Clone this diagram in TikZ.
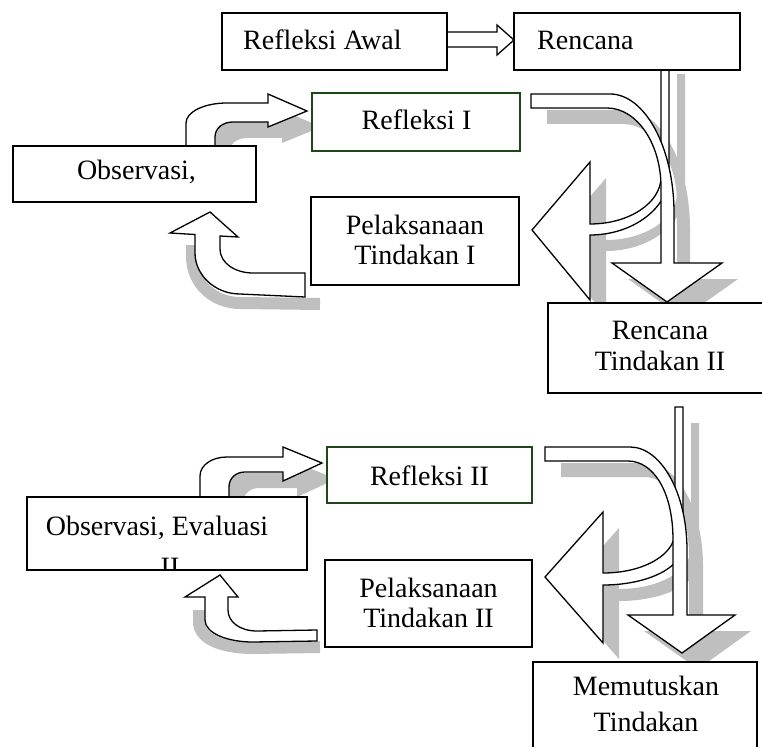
\documentclass[tikz,border=0pt]{standalone}
\usepackage{fontspec}
\setmainfont{Liberation Serif}
\definecolor{shadowgray}{RGB}{191,191,191}
\definecolor{dkgreen}{RGB}{30,70,25}
\newcommand\arA[1]{\path[#1] (531,94) -- (610,94) .. controls (645,94) and (674,148) .. (674,213) -- (674,263) -- (722,263) -- (667,302) -- (612,263) -- (661,263) -- (661,187) .. controls (661,144) and (637,108) .. (607,108) -- (531,108) -- cycle;}
\newcommand\arB[1]{\path[#1] (661,58) -- (669,58) -- (669,175) .. controls (669,208) and (633,235) .. (590,235) -- (590,300) -- (532,230) -- (590,162) -- (590,224) .. controls (629,224) and (661,203) .. (661,177) -- cycle;}
\newcommand\arC[1]{\path[#1] (186,147) -- (186,123) .. controls (186,112) and (204,103) .. (227,103) -- (268,103) -- (268,94) -- (307,111) -- (268,127) -- (268,122) -- (233,122) .. controls (223,122) and (215,128) .. (215,137) -- (215,147) -- cycle;}
\newcommand\arD[1]{\path[#1] (305,297) -- (240,294) .. controls (215,294) and (195,275) .. (195,253) -- (195,234.5) -- (170,233) -- (210,212) -- (238,237) -- (220,236) -- (220,249) .. controls (220,263) and (235,273) .. (253,273) -- (305,273) -- cycle;}
\newcommand\arE[1]{\path[#1] (200,498) -- (200,476) .. controls (200,465) and (212,457) .. (227,457) -- (283,457) -- (283,447) -- (322,463) -- (283,481) -- (283,472) -- (245,472) .. controls (236,472) and (229,478) .. (229,487) -- (229,498) -- cycle;}
\newcommand\arF[1]{\path[#1] (317,641) -- (253,642) .. controls (227,642) and (205,633) .. (205,620) -- (205,597) -- (185,597) -- (220,575) -- (238,597) -- (228,597) -- (228,610) .. controls (228,622) and (240,631) .. (257,631) -- (317,630) -- cycle;}
\newcommand\arG[1]{\path[#1] (545,447) -- (630,447) .. controls (661,447) and (687,493) .. (687,550) -- (687,615) -- (735,615) -- (682,653) -- (628,615) -- (673,615) -- (673,540) .. controls (673,491) and (653,461) .. (628,461) -- (545,461) -- cycle;}
\newcommand\arH[1]{\path[#1] (675,407) -- (683,407) -- (683,545) .. controls (683,568) and (647,585) .. (603,585) -- (603,643) -- (545,577) -- (603,512) -- (603,573) .. controls (643,573) and (675,555) .. (675,532) -- cycle;}
\begin{document}
\begin{tikzpicture}[x=1pt,y=-1pt,
  box/.style={draw=black,line width=1.8pt,fill=white,inner sep=0pt,outer sep=0pt},
  gbox/.style={box,draw=dkgreen},
  arr/.style={draw=black,line width=1.3pt,fill=white,line join=miter},
  shad/.style={fill=shadowgray,draw=none},
  shadband/.style={draw=shadowgray,line width=12pt},
  txt/.style={font=\fontsize{28}{31}\selectfont,inner sep=0pt,anchor=base},
]
\clip (0,0) rectangle (762,746);
\fill[white] (0,0) rectangle (762,746);
% shadows
\arA{shad,shift={(16,16)}}
\arB{shad,shift={(16,16)}}
\arC{shad,shift={(14,16)}}
\arE{shad,shift={(14,16)}}
\arG{shad,shift={(16,16)}}
\arH{shad,shift={(16,16)}}
\draw[shadband] (192,245) -- (192,256) .. controls (192,285) and (215,303) .. (240,303) -- (320,304);
\draw[shadband] (199,610) -- (199,622) .. controls (199,640) and (225,648) .. (253,648) -- (320,647);
% arrows
\draw[arr] (447,32) -- (497,32) -- (497,25) -- (514,40) -- (497,55) -- (497,47) -- (447,47) -- cycle;
\arB{arr}
\arA{arr}
\arC{arr}
\arD{arr}
\arH{arr}
\arG{arr}
\arE{arr}
\arF{arr}
% boxes
\node[box,minimum width=225pt,minimum height=57pt] (awal) at (334.5,41.5) {};
\node[box,minimum width=226pt,minimum height=57pt] (rencana) at (627,41.5) {};
\node[gbox,minimum width=208pt,minimum height=58pt] (ref1) at (416,122) {};
\node[box,minimum width=243pt,minimum height=56pt] (obs1) at (134.5,174) {};
\node[box,minimum width=208pt,minimum height=88pt] (pel1) at (415,241) {};
\node[box,minimum width=224pt,minimum height=90pt] (rt2) at (660,348) {};
\node[gbox,minimum width=205pt,minimum height=56pt] (ref2) at (429.5,475) {};
\node[box,minimum width=280pt,minimum height=73pt] (obs2) at (167,533.5) {};
\node[box,minimum width=207pt,minimum height=87pt] (pel2) at (428.5,603.5) {};
\node[box,minimum width=224pt,minimum height=100pt] (mem) at (645,712) {};
% texts
\node[txt,anchor=base west] (tawal) at (243,50) {Refleksi Awal};
\node[txt,anchor=base west] (tren) at (537,50) {Rencana};
\node[txt] (tref1) at (416.5,130) {Refleksi I};
\node[txt] (tobs1) at (136.5,179) {Observasi,};
\node[txt] (tpel1a) at (415,234) {Pelaksanaan};
\node[txt] (tpel1b) at (415,264) {Tindakan I};
\node[txt] (trt2a) at (660,339) {Rencana};
\node[txt] (trt2b) at (660,370) {Tindakan II};
\node[txt] (tref2) at (429.5,485) {Refleksi II};
\node[txt] (tobs2a) at (157,535) {Observasi, Evaluasi};
\begin{scope}
\clip (28,498) rectangle (306,568);
\node[txt] (tobs2b) at (170,576) {II};
\end{scope}
\node[txt] (tpel2a) at (428.5,597) {Pelaksanaan};
\node[txt] (tpel2b) at (428.5,627) {Tindakan II};
\node[txt] (tmema) at (646,695) {Memutuskan};
\node[txt] (tmemb) at (646,731) {Tindakan};
\end{tikzpicture}
\end{document}
